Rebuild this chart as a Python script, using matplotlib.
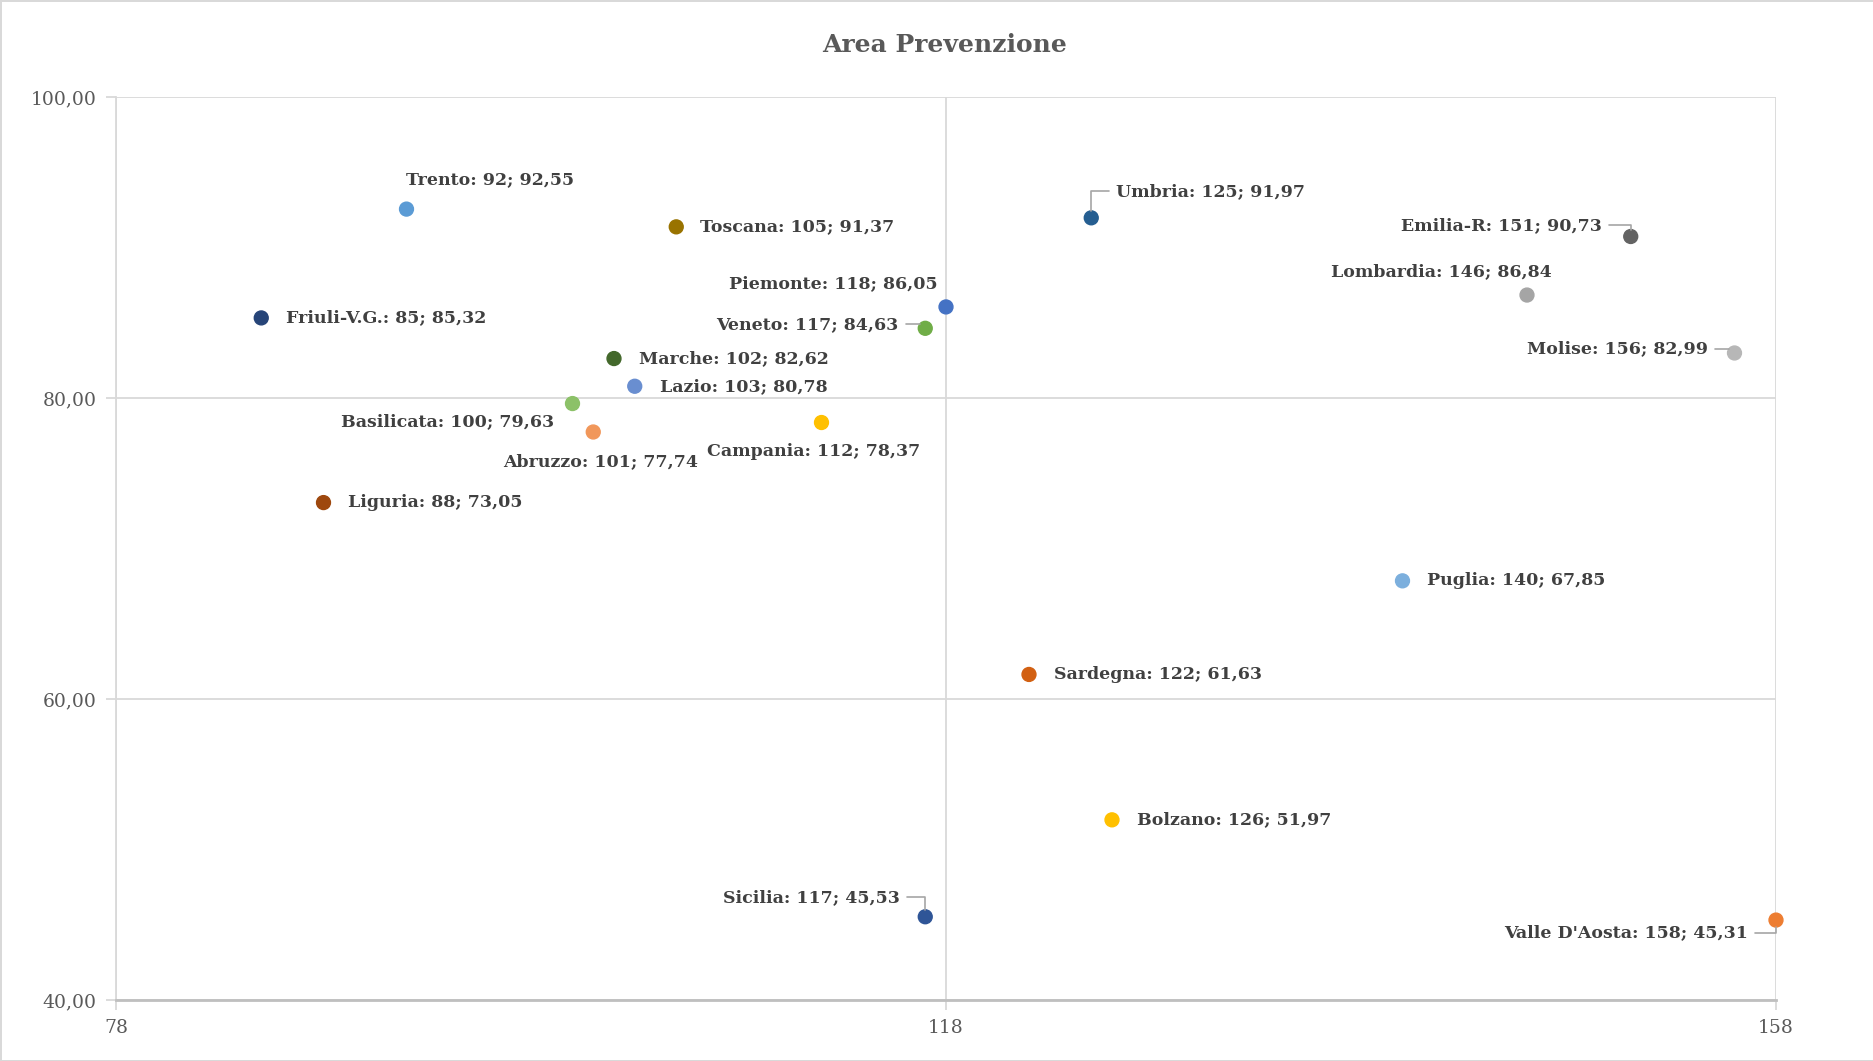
import matplotlib.pyplot as plt
import matplotlib.ticker as mticker

plt.rcParams['font.family'] = ['DejaVu Serif', 'Liberation Serif']

regioni = ['Trento', 'Toscana', 'Piemonte', 'Friuli-V.G.', 'Veneto', 'Marche',
           'Lazio', 'Basilicata', 'Abruzzo', 'Campania', 'Liguria', 'Umbria',
           'Emilia-R', 'Lombardia', 'Molise', 'Puglia', 'Sardegna', 'Bolzano',
           'Sicilia', "Valle D'Aosta"]
x_val = [92, 105, 118, 85, 117, 102, 103, 100, 101, 112, 88, 125,
         151, 146, 156, 140, 122, 126, 117, 158]
y_val = [92.55, 91.37, 86.05, 85.32, 84.63, 82.62, 80.78, 79.63, 77.74, 78.37,
         73.05, 91.97, 90.73, 86.84, 82.99, 67.85, 61.63, 51.97, 45.53, 45.31]
colori = ['#5b9bd5', '#997300', '#4472c4', '#264478', '#70ad47', '#43682b',
          '#698ed0', '#8cc168', '#f1975a', '#ffc000', '#9e480e', '#255e91',
          '#636363', '#a5a5a5', '#b7b7b7', '#7cafdd', '#d26012', '#ffc000',
          '#2f5597', '#ed7d31']
x_ticks = [78, 118, 158]
y_ticks = [40, 60, 80, 100]

# label placement: offset in points, horizontal alignment, leader line
lab_pos = {
    'Trento': (60, 21, 'center', False),
    'Toscana': (17, 0, 'left', False),
    'Piemonte': (-6, 17, 'right', False),
    'Friuli-V.G.': (18, 0, 'left', False),
    'Veneto': (-19, 3, 'right', True),
    'Marche': (18, 0, 'left', False),
    'Lazio': (18, 0, 'left', False),
    'Basilicata': (-13, -13, 'right', False),
    'Abruzzo': (5, -21, 'center', False),
    'Campania': (-6, -21, 'center', False),
    'Liguria': (18, 0, 'left', False),
    'Umbria': (18, 19, 'left', True),
    'Emilia-R': (-21, 8, 'right', True),
    'Lombardia': (18, 17, 'right', False),
    'Molise': (-19, 3, 'right', True),
    'Puglia': (18, 0, 'left', False),
    'Sardegna': (18, 0, 'left', False),
    'Bolzano': (18, 0, 'left', False),
    'Sicilia': (-18, 14, 'right', True),
    "Valle D'Aosta": (-20, -9, 'right', True),
}

fig = plt.figure(figsize=(18.74, 10.61), dpi=100)
fig.patch.set_edgecolor('#d9d9d9')
fig.patch.set_linewidth(2)
ax = fig.add_axes([0.0619, 0.0575, 0.8858, 0.8511])

ax.set_xlim(78, 158)
ax.set_ylim(40, 100)
ax.xaxis.set_major_locator(mticker.FixedLocator(x_ticks))
ax.yaxis.set_major_locator(mticker.FixedLocator(y_ticks))
ax.yaxis.set_major_formatter(mticker.FuncFormatter(lambda v, p: f'{v:.2f}'.replace('.', ',')))
ax.grid(True, color='#d9d9d9', linewidth=1.3)
ax.set_axisbelow(True)
for s in ['top', 'right']:
    ax.spines[s].set_visible(False)
ax.spines['left'].set_color('#d9d9d9')
ax.spines['left'].set_linewidth(1.3)
ax.spines['bottom'].set_color('#bfbfbf')
ax.spines['bottom'].set_linewidth(2)
ax.tick_params(colors='#d9d9d9', labelcolor='#595959', labelsize=13.5, length=7, width=1.3, pad=7)

ax.scatter(x_val, y_val, s=100, c=colori, zorder=3, clip_on=False)

for nome, x, y in zip(regioni, x_val, y_val):
    dx, dy, ha, leader = lab_pos[nome]
    testo = f'{nome}: {x}; ' + f'{y:.2f}'.replace('.', ',')
    ap = None
    if leader:
        ap = dict(arrowstyle='-', color='#a6a6a6', lw=1.2, shrinkA=3, shrinkB=5,
                  connectionstyle='angle,angleA=0,angleB=90,rad=0')
    ax.annotate(testo, (x, y), xytext=(dx, dy), textcoords='offset points',
                ha=ha, va='center', fontsize=12.5, fontweight='bold', color='#404040',
                arrowprops=ap, zorder=4, annotation_clip=False)

fig.text(0.504, 0.958, 'Area Prevenzione', ha='center', va='center',
         fontsize=18, fontweight='bold', color='#595959')

fig.savefig('out.png', dpi=100)
